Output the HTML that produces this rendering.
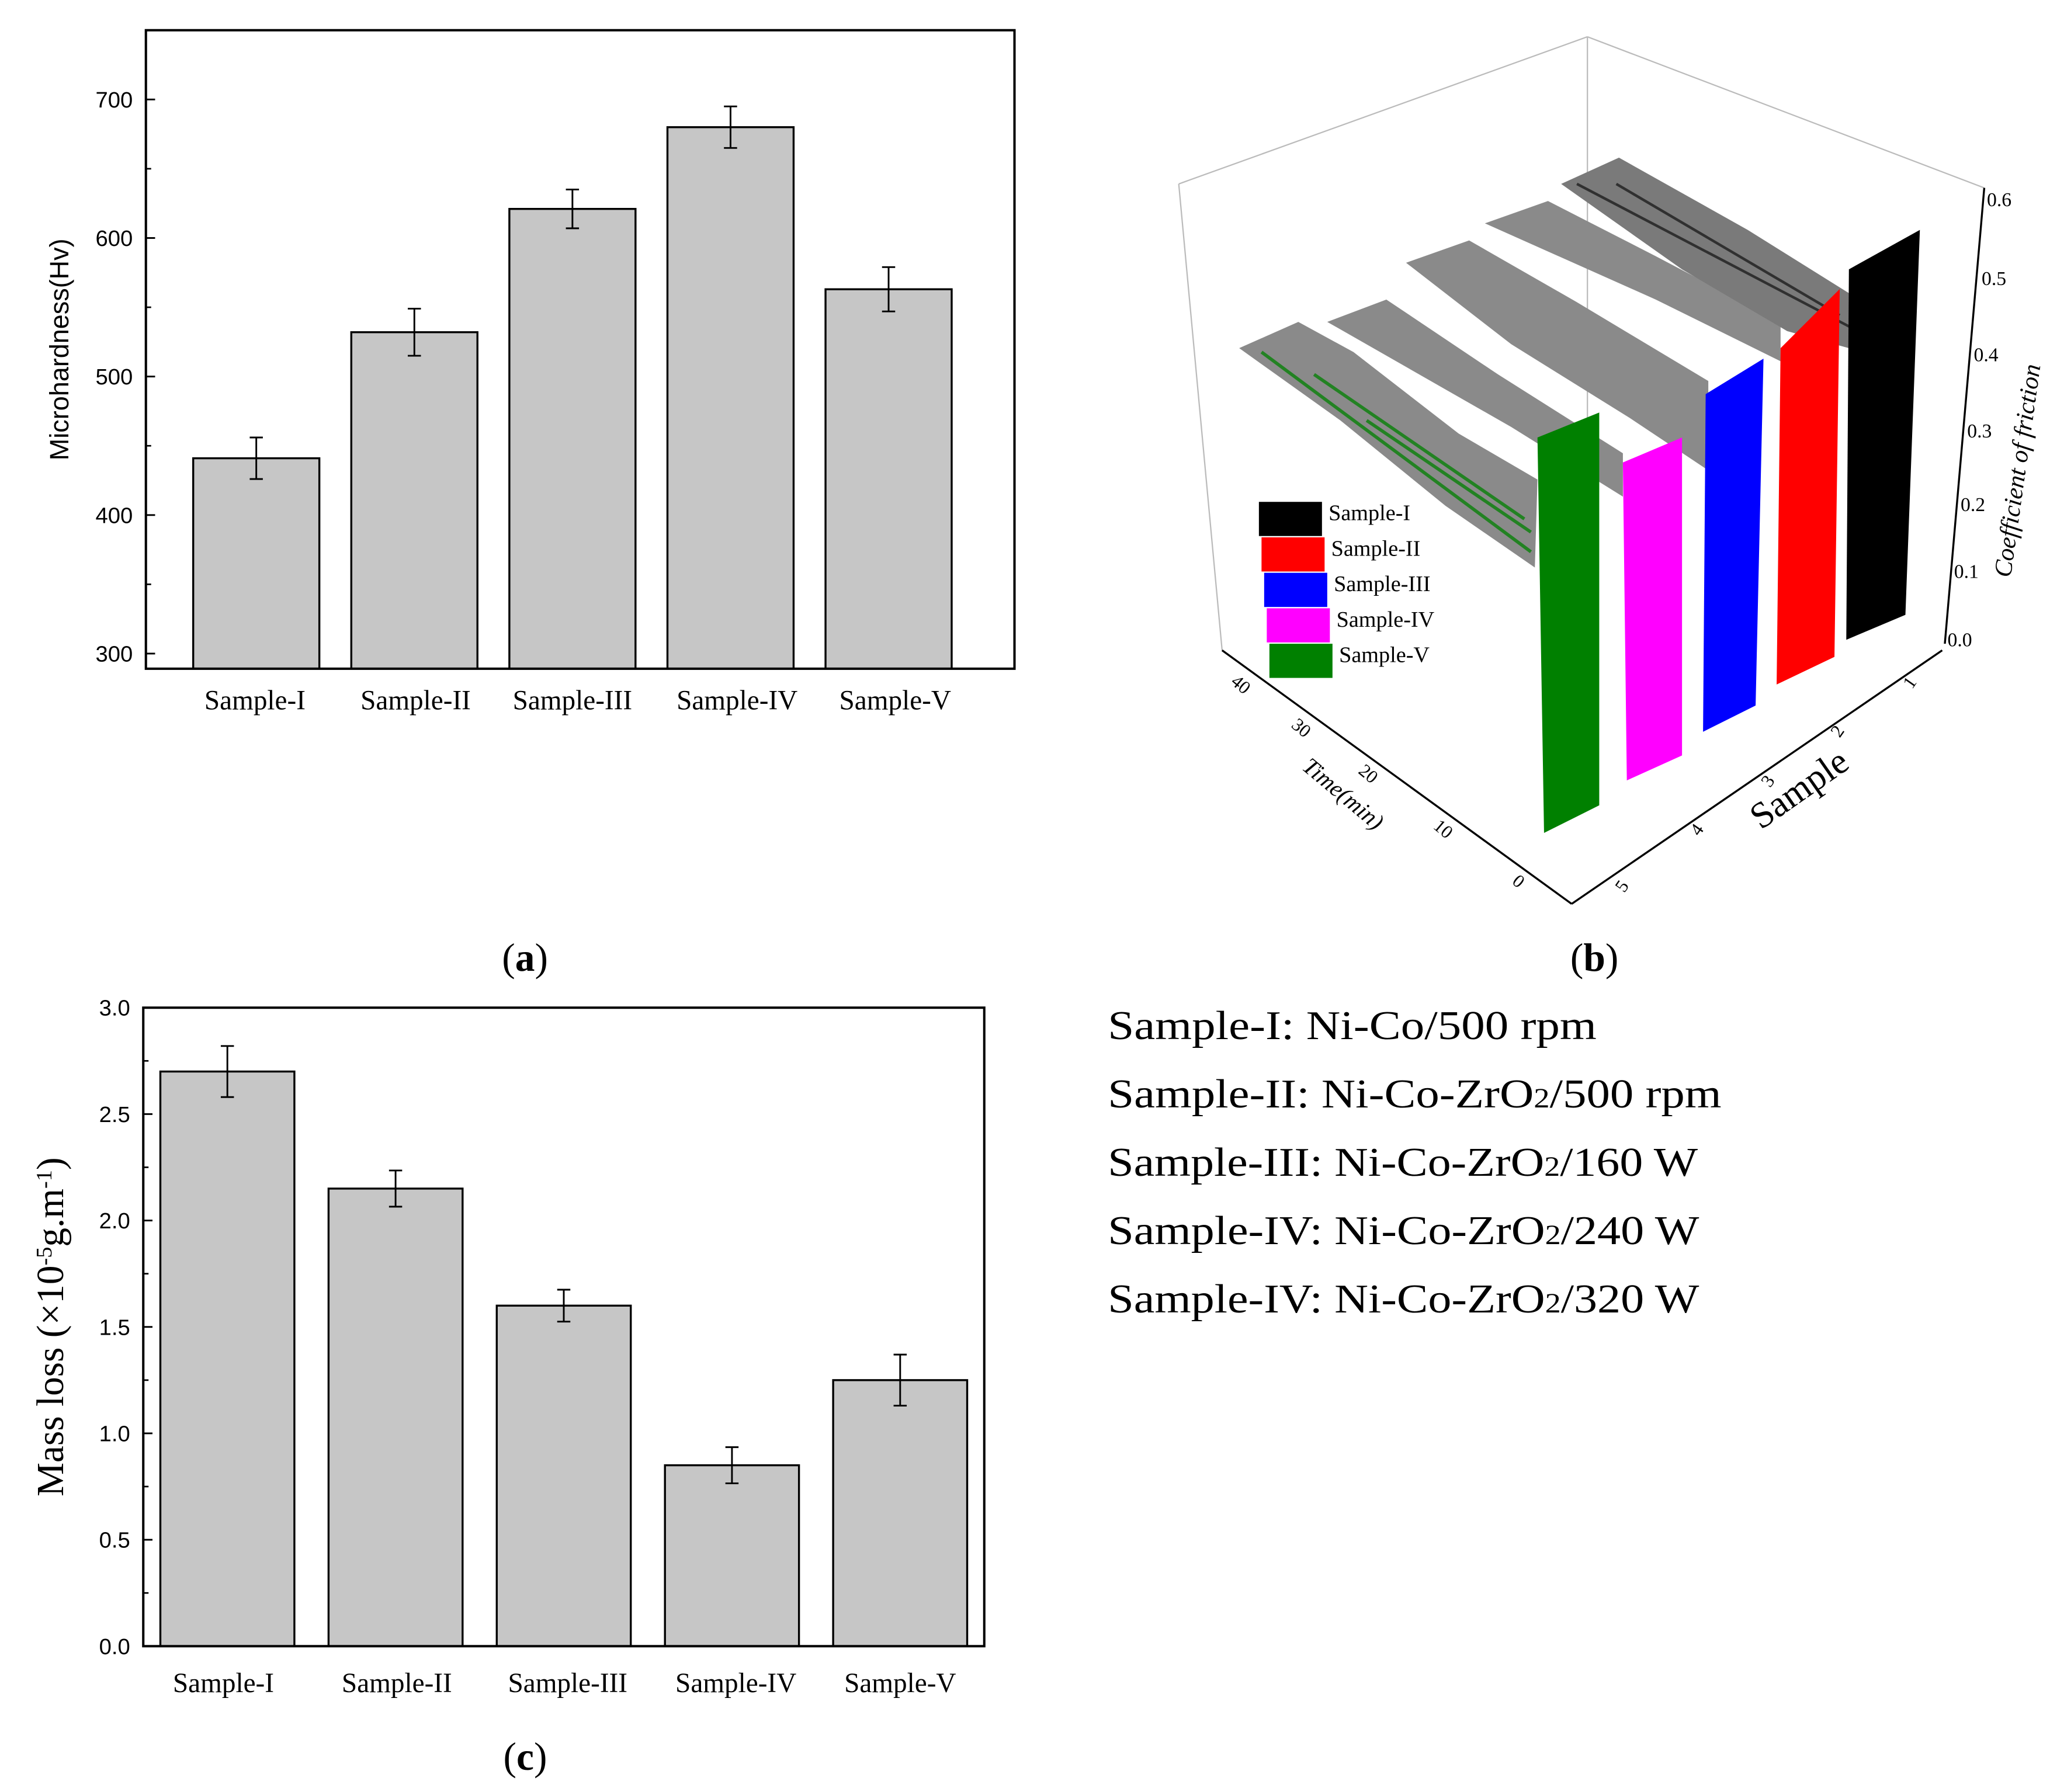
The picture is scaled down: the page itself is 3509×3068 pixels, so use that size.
<!DOCTYPE html>
<html><head><meta charset="utf-8"><style>
html,body{margin:0;padding:0;background:#fff}
svg{display:block}
text{font-family:"Liberation Serif",serif}
.sans{font-family:"Liberation Sans",sans-serif}
</style></head><body>
<svg id="fig" width="3509" height="3068" viewBox="0 0 1560 1364" xmlns="http://www.w3.org/2000/svg">
<rect width="1560" height="1364" fill="#fff"/>
<g id="chartA"></g>
<g id="chartC"></g>
<g id="chart3d">
  <g stroke="#000" stroke-width="1.5" fill="none">
    <line x1="897" y1="140" x2="1208" y2="28" stroke="#bbb" stroke-width="1"/>
    <line x1="1208" y1="28" x2="1510" y2="143" stroke="#bbb" stroke-width="1"/>
    <line x1="1208" y1="28" x2="1208" y2="330" stroke="#bbb" stroke-width="1"/>
    <line x1="897" y1="140" x2="930" y2="495" stroke="#bbb" stroke-width="1"/>
    <line x1="930" y1="495" x2="1196" y2="688"/>
    <line x1="1196" y1="688" x2="1478" y2="495"/>
    <line x1="1510" y1="143" x2="1480" y2="490"/>
  </g>
  <polygon points="943,265 988,245 1030,268 1110,330 1170,365 1168,432 1100,385 1020,320" fill="#8a8a8a"/>
  <g stroke="#008000" stroke-width="2.5" opacity="0.75"><line x1="960" y1="268" x2="1165" y2="420"/><line x1="1000" y1="285" x2="1160" y2="395"/><line x1="1040" y1="320" x2="1165" y2="405"/></g>
  <polygon points="1010,245 1055,228 1140,285 1235,345 1235,378 1150,325" fill="#8a8a8a"/>
  <polygon points="1070,200 1118,183 1200,230 1300,290 1300,358 1240,318 1150,262" fill="#8a8a8a"/>
  <polygon points="1130,170 1178,153 1260,195 1355,245 1355,275 1260,228" fill="#8a8a8a"/>
  <polygon points="1188,140 1232,120 1330,175 1418,230 1418,268 1360,252 1280,205" fill="#7a7a7a"/>
  <g stroke="#111" stroke-width="2" opacity="0.7"><line x1="1200" y1="140" x2="1410" y2="250"/><line x1="1230" y1="140" x2="1400" y2="240"/></g>
  <polygon points="1170,333 1217,314 1217,613 1175,634" fill="#008000"/>
  <polygon points="1235,352 1280,333 1280,575 1238,594" fill="#ff00ff"/>
  <polygon points="1298,300 1342,273 1336,537 1296,557" fill="#0000ff"/>
  <polygon points="1355,265 1400,220 1396,500 1352,521" fill="#ff0000"/>
  <polygon points="1407,205 1461,175 1450,468 1405,487" fill="#000"/>
  <g font-size="17">
    <rect x="958" y="382" width="48" height="26" fill="#000"/><text x="1011" y="396">Sample-I</text>
    <rect x="960" y="409" width="48" height="26" fill="#f00"/><text x="1013" y="423">Sample-II</text>
    <rect x="962" y="436" width="48" height="26" fill="#00f"/><text x="1015" y="450">Sample-III</text>
    <rect x="964" y="463" width="48" height="26" fill="#f0f"/><text x="1017" y="477">Sample-IV</text>
    <rect x="966" y="490" width="48" height="26" fill="#008000"/><text x="1019" y="504">Sample-V</text>
  </g>
  <g class="sans" font-size="15" fill="#000">
    <text x="1512" y="157">0.6</text><text x="1508" y="217">0.5</text><text x="1502" y="275">0.4</text>
    <text x="1497" y="333">0.3</text><text x="1492" y="389">0.2</text><text x="1487" y="440">0.1</text><text x="1482" y="492">0.0</text>
  </g>
  <text font-size="19" font-style="italic" transform="translate(1530,440) rotate(-82)">Coefficient of friction</text>
  <g class="sans" font-size="14">
    <text transform="translate(936,520) rotate(40)">40</text><text transform="translate(982,553) rotate(40)">30</text>
    <text transform="translate(1033,588) rotate(40)">20</text><text transform="translate(1090,630) rotate(40)">10</text>
    <text transform="translate(1150,672) rotate(40)">0</text>
  </g>
  <text transform="translate(990,585) rotate(40)" font-size="18" font-style="italic">Time(min)</text>
  <g class="sans" font-size="14">
    <text transform="translate(1455,525) rotate(-55)">1</text><text transform="translate(1400,562) rotate(-55)">2</text>
    <text transform="translate(1347,600) rotate(-55)">3</text><text transform="translate(1293,637) rotate(-55)">4</text>
    <text transform="translate(1236,680) rotate(-55)">5</text>
  </g>
  <text transform="translate(1340,632) rotate(-35)" font-size="28">Sample</text>
</g>
<text x="382" y="739" font-size="30">(<tspan font-weight="bold">a</tspan>)</text>
<text x="1195" y="739" font-size="30">(<tspan font-weight="bold">b</tspan>)</text>
<text x="383" y="1347" font-size="30">(<tspan font-weight="bold">c</tspan>)</text>
<g font-size="31">
  <text x="843" y="791" textLength="372" lengthAdjust="spacingAndGlyphs">Sample-I: Ni-Co/500 rpm</text>
  <text x="843" y="843" textLength="467" lengthAdjust="spacingAndGlyphs">Sample-II: Ni-Co-ZrO<tspan font-size="21">2</tspan>/500 rpm</text>
  <text x="843" y="895" textLength="449" lengthAdjust="spacingAndGlyphs">Sample-III: Ni-Co-ZrO<tspan font-size="21">2</tspan>/160 W</text>
  <text x="843" y="947" textLength="450" lengthAdjust="spacingAndGlyphs">Sample-IV: Ni-Co-ZrO<tspan font-size="21">2</tspan>/240 W</text>
  <text x="843" y="999" textLength="450" lengthAdjust="spacingAndGlyphs">Sample-IV: Ni-Co-ZrO<tspan font-size="21">2</tspan>/320 W</text>
</g>
</svg>
<script>
const NS="http://www.w3.org/2000/svg";
const categories=["Sample-I","Sample-II","Sample-III","Sample-IV","Sample-V"];
const hardness=[441,532,621,680,563];
const hardnessErr=[15,17,14,15,16];
const hardnessTicks=[300,400,500,600,700];
const massLoss=[2.70,2.15,1.60,0.85,1.25];
const massLossErr=[0.12,0.085,0.075,0.085,0.12];
const massTicks=[0.0,0.5,1.0,1.5,2.0,2.5,3.0];

function mk(parent,tag,attrs,txt){const e=document.createElementNS(NS,tag);for(const k in attrs)e.setAttribute(k,attrs[k]);if(txt!==undefined)e.textContent=txt;parent.appendChild(e);return e;}

function drawChart(g,cfg){
  const {x0,x1,y0,y1,vmin,vmax,vals,errs,ticks,minor,bw,fmt,catY,title,titleX,titleFont,titleSize,catOffsets,firstC,step,catSize}=cfg;
  const ys=v=>y1-(v-vmin)/(vmax-vmin)*(y1-y0);
  const xc=i=>firstC+step*i;
  vals.forEach((v,i)=>{
    const r=mk(g,"rect",{x:xc(i)-bw/2,y:ys(v),width:bw,height:y1-ys(v),fill:"#c6c6c6",stroke:"#000","stroke-width":1.5});
    
    
    const e=errs[i];
    const eb=mk(g,"path",{d:`M${xc(i)},${ys(v+e)}V${ys(v-e)}M${xc(i)-5},${ys(v+e)}H${xc(i)+5}M${xc(i)-5},${ys(v-e)}H${xc(i)+5}`,stroke:"#000","stroke-width":1.3,fill:"none"});
    
    
    const t=mk(g,"text",{x:xc(i)+(catOffsets?catOffsets[i]:0),y:catY,"font-size":catSize,"text-anchor":"middle"},categories[i]);
    
    
  });
  const fr=mk(g,"rect",{x:x0,y:y0,width:x1-x0,height:y1-y0,fill:"none",stroke:"#000","stroke-width":1.8});
  
  
  ticks.forEach(t=>{
    mk(g,"line",{x1:x0,x2:x0+7,y1:ys(t),y2:ys(t),stroke:"#000","stroke-width":1.3});
    const l=mk(g,"text",{x:x0-10,y:ys(t)+6,"font-size":17,"text-anchor":"end",class:"sans"},fmt(t));
    
    
  });
  minor.forEach(t=>mk(g,"line",{x1:x0,x2:x0+4,y1:ys(t),y2:ys(t),stroke:"#000","stroke-width":1.2}));
  const tt=mk(g,"text",{transform:`translate(${titleX},${(y0+y1)/2}) rotate(-90)`,"font-size":titleSize,"text-anchor":"middle",class:titleFont});
  tt.innerHTML=title;
  
  
}
drawChart(document.getElementById("chartA"),{x0:111,x1:772,y0:23,y1:509,vmin:300-11.5/105.25*100,vmax:750,
  vals:hardness,errs:hardnessErr,ticks:hardnessTicks,minor:[350,450,550,650],bw:96,fmt:v=>String(v),catY:540,catSize:21,
  firstC:195,step:120.3,
  title:"Microhardness(Hv)",titleX:52,titleFont:"sans",titleSize:20,catOffsets:[-1,1,0,5,5]});
drawChart(document.getElementById("chartC"),{x0:109,x1:749,y0:767,y1:1253,vmin:0,vmax:3.0,
  vals:massLoss,errs:massLossErr,ticks:massTicks,minor:[0.25,0.75,1.25,1.75,2.25,2.75],bw:102,fmt:v=>v.toFixed(1),catY:1288,catSize:21,
  firstC:173,step:128,
  title:'Mass loss (×10<tspan dy="-9" font-size="17">-5</tspan><tspan dy="9">g.m</tspan><tspan dy="-9" font-size="17">-1</tspan><tspan dy="9">)</tspan>',titleX:48,titleFont:"",titleSize:29,catOffsets:[-3,1,3,3,0]});
</script>
</body></html>
